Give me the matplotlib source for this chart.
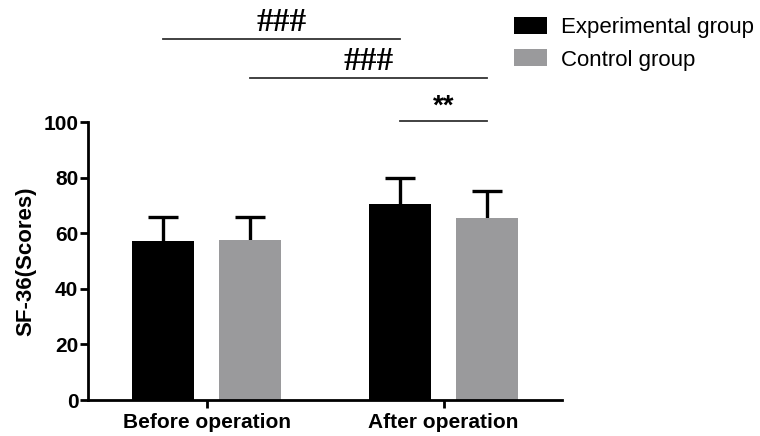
import matplotlib.pyplot as plt
import numpy as np

plt.rcParams['font.family'] = ['Liberation Sans', 'DejaVu Sans']

# data
categories = ["Before operation", "After operation"]
groups = ["Experimental group", "Control group"]
exp_means = [57.3, 70.4]
exp_sd = [8.5, 9.6]
ctrl_means = [57.5, 65.4]
ctrl_sd = [8.4, 10.0]

# significance marks: (first bar, second bar, height, label)
# bars numbered 0 = before/exp, 1 = before/ctrl, 2 = after/exp, 3 = after/ctrl
comparisons = [(0, 2, 130, "###"), (1, 3, 116, "###"), (2, 3, 100.4, "**")]

colors = ["black", "#9a9a9c"]
width = 0.263
offset = 0.184

fig = plt.figure(figsize=(7.6, 4.36), dpi=100)
ax = fig.add_axes([88/760, 1 - 400/436, (562-88)/760, (400-122.3)/436])

x = np.arange(len(categories))
centers = []
for i, (means, sd) in enumerate([(exp_means, exp_sd), (ctrl_means, ctrl_sd)]):
    pos = x + (i * 2 - 1) * offset
    means = np.array(means)
    sd = np.array(sd)
    ax.bar(pos, means, width, color=colors[i], label=groups[i], zorder=2)
    # upper error only: stem plus a cap on top
    ax.vlines(pos, means, means + sd, color='black', lw=2.4, zorder=1)
    ax.plot(pos, means + sd, ls='none', marker='_', markersize=22, mew=2.4, color='black', zorder=1)
    centers.append(pos)

bar_x = [centers[0][0], centers[1][0], centers[0][1], centers[1][1]]

for a, b, h, lab in comparisons:
    ax.plot([bar_x[a], bar_x[b]], [h, h], color='#333333', lw=1.3, clip_on=False)
    if lab == "###":
        ax.text((bar_x[a] + bar_x[b]) / 2, h + 0.3, lab, ha='center', va='bottom',
                fontsize=24, fontweight='bold', family=['Liberation Serif'])
    else:
        ax.text((bar_x[a] + bar_x[b]) / 2, h + 0.5, lab, ha='center', va='bottom',
                fontsize=20, fontweight='bold')

ax.set_xlim(-0.5, 1.5)
ax.set_ylim(0, 100)
ax.set_yticks([0, 20, 40, 60, 80, 100])
ax.set_xticks(x)
ax.set_xticklabels(categories, fontsize=15, fontweight='bold')
for t in ax.get_yticklabels():
    t.set_fontsize(15)
    t.set_fontweight('bold')
ax.set_ylabel("SF-36(Scores)", fontsize=16, fontweight='bold', labelpad=5)

for s in ['top', 'right']:
    ax.spines[s].set_visible(False)
for s in ['left', 'bottom']:
    ax.spines[s].set_linewidth(2)
ax.tick_params(axis='both', width=2, length=6)
ax.tick_params(axis='y', pad=1)
ax.tick_params(axis='x', pad=3)

ax.legend(loc='upper left', bbox_to_anchor=(514/760, 1 - 17/436), bbox_transform=fig.transFigure,
          frameon=False, fontsize=16, handlelength=1.5, handleheight=0.8,
          handletextpad=0.6, labelspacing=0.5, borderpad=0, borderaxespad=0)

plt.savefig("out.png")
